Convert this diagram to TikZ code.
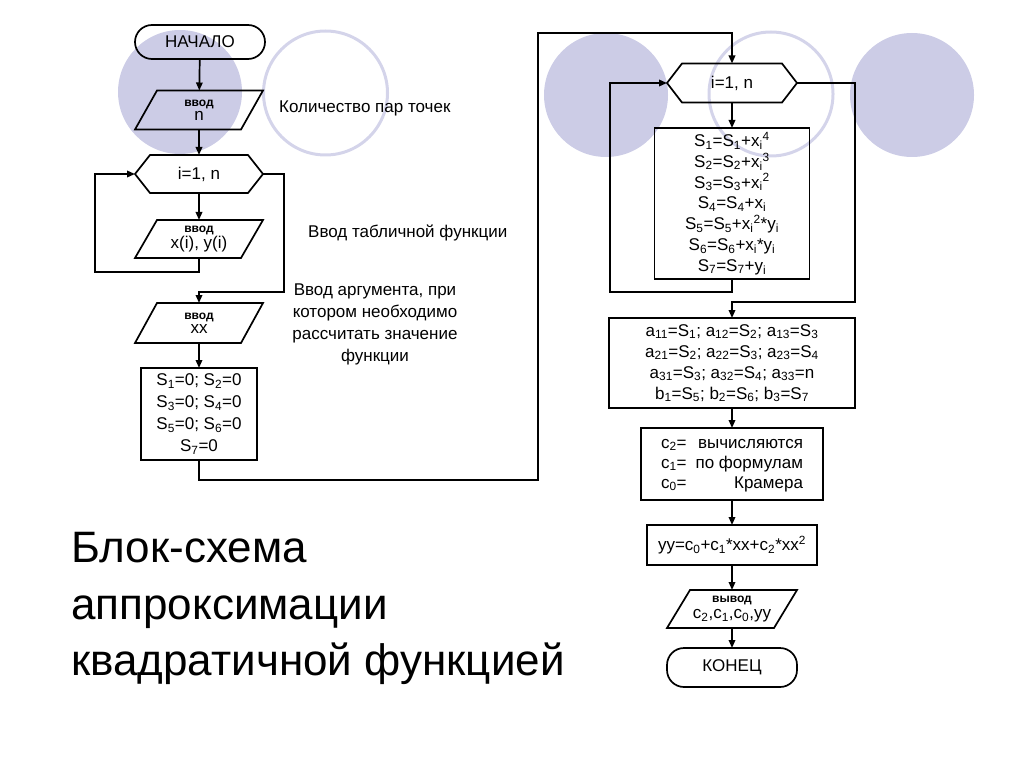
\documentclass[tikz,border=0pt]{standalone}
\usepackage{fontspec}
\setmainfont{Liberation Sans}
\usetikzlibrary{arrows.meta}
\definecolor{lav}{RGB}{204,204,230}
\definecolor{lavline}{RGB}{212,212,234}
\newcommand\Sb[1]{\textsubscript{#1}}
\newcommand\Sp[1]{\textsuperscript{#1}}
\newcommand\drawpara[2]{\draw[shapeline] (#1.south west) -- ([xshift=#2]#1.north west) -- (#1.north east) -- ([xshift=-#2]#1.south east) -- cycle;}
\newcommand\drawhexa[1]{\draw[shapeline] (#1.west) -- ([xshift=15pt]#1.north west) -- ([xshift=-15pt]#1.north east) -- (#1.east) -- ([xshift=-15pt]#1.south east) -- ([xshift=15pt]#1.south west) -- cycle;}
\newcommand\vvod[1]{{\fontsize{12}{13}\selectfont\bfseries #1}}
\begin{document}
\begin{tikzpicture}[x=1pt,y=-1pt,
  shapeline/.style={line width=1.7pt,line join=miter},
  flow/.style={line width=1.7pt},
  arr/.style={flow,-{Triangle[length=8pt,width=6.5pt]}},
  box/.style={draw,line width=1.7pt,inner sep=0pt,outer sep=0pt,align=center,font=\fontsize{17}{21}\selectfont},
  ghost/.style={inner sep=0pt,outer sep=0pt,align=center,font=\fontsize{17}{14}\selectfont},
  term/.style={box,rounded corners=17pt},
  disc/.style={fill=lav,draw=none},
  ring/.style={draw=lavline,line width=3pt},
  note/.style={font=\fontsize{17}{22}\selectfont},
  title/.style={font=\fontsize{44}{50}\selectfont,anchor=base west,inner sep=0pt}]
\useasboundingbox (0,0) rectangle (1024,767);
% background circles
\fill[disc] (180,92) circle (62);
\draw[ring] (325.5,93) circle (62);
\fill[disc] (606,95) circle (62);
\draw[ring] (771,94) circle (62);
\fill[disc] (912,95) circle (62);

% left flow
\node[term,minimum width=130pt,minimum height=34pt] (start) at (200,42) {НАЧАЛО};
\node[ghost,minimum width=128pt,minimum height=39pt] (in1) at (199,110) {\vvod{ввод}\\n};
\drawpara{in1}{22pt}
\node[ghost,minimum width=128pt,minimum height=38pt] (loop1) at (199,174) {i=1, n};
\drawhexa{loop1}
\node[ghost,minimum width=128pt,minimum height=38pt,font=\fontsize{17}{13}\selectfont] (in2) at (199,239) {\vvod{ввод}\\x(i), y(i)};
\drawpara{in2}{22pt}
\node[ghost,minimum width=128pt,minimum height=40pt,font=\fontsize{17}{14}\selectfont] (in3) at (199,323) {\vvod{ввод}\\xx};
\drawpara{in3}{22pt}
\node[box,minimum width=116pt,minimum height=92pt,font=\fontsize{17}{22}\selectfont] (init) at (199,414)
  {S\Sb{1}=0; S\Sb{2}=0\\S\Sb{3}=0; S\Sb{4}=0\\S\Sb{5}=0; S\Sb{6}=0\\S\Sb{7}=0};

% right flow
\node[ghost,minimum width=130pt,minimum height=39pt] (loop2) at (732,83) {i=1, n};
\drawhexa{loop2}
\node[box,minimum width=155pt,minimum height=151pt,font=\fontsize{17}{20.8}\selectfont] (sum) at (732,203.5)
  {S\Sb{1}=S\Sb{1}+x\Sb{i}\Sp{4}\\
   S\Sb{2}=S\Sb{2}+x\Sb{i}\Sp{3}\\
   S\Sb{3}=S\Sb{3}+x\Sb{i}\Sp{2}\\
   S\Sb{4}=S\Sb{4}+x\Sb{i}\\
   S\Sb{5}=S\Sb{5}+x\Sb{i}\Sp{2}*y\Sb{i}\\
   S\Sb{6}=S\Sb{6}+x\Sb{i}*y\Sb{i}\\
   S\Sb{7}=S\Sb{7}+y\Sb{i}};
\node[box,minimum width=246pt,minimum height=90pt] (abox) at (732,363)
  {a\Sb{11}=S\Sb{1}; a\Sb{12}=S\Sb{2}; a\Sb{13}=S\Sb{3}\\
   a\Sb{21}=S\Sb{2}; a\Sb{22}=S\Sb{3}; a\Sb{23}=S\Sb{4}\\
   a\Sb{31}=S\Sb{3}; a\Sb{32}=S\Sb{4}; a\Sb{33}=n\\
   b\Sb{1}=S\Sb{5}; b\Sb{2}=S\Sb{6}; b\Sb{3}=S\Sb{7}};
\node[box,minimum width=182pt,minimum height=72pt] (cbox) at (732,464)
  {\begin{tabular}{@{}l@{\hspace{9pt}}r@{}}
   c\Sb{2}= & вычисляются\\[-1pt]
   c\Sb{1}= & по формулам\\[-1pt]
   c\Sb{0}= & Крамера
   \end{tabular}};
\node[box,minimum width=170pt,minimum height=40pt] (yy) at (732,545)
  {yy=c\Sb{0}+c\Sb{1}*xx+c\Sb{2}*xx\Sp{2}};
\node[ghost,minimum width=130pt,minimum height=38pt,font=\fontsize{17}{16}\selectfont] (out) at (732,609)
  {\vvod{вывод}\\c\Sb{2},c\Sb{1},c\Sb{0},yy};
\drawpara{out}{23pt}
\node[term,minimum width=130pt,minimum height=39pt] (stop) at (732,667.5) {КОНЕЦ};

% connectors left
\draw[arr] (start) -- (in1);
\draw[arr] (in1) -- (loop1);
\draw[arr] (loop1) -- (in2);
\coordinate (lc) at (95,174);
\draw[arr] (in2.south) -- ++(0,14) -| (lc) -- (loop1.west);
\coordinate (rc) at (284,292);
\draw[arr] (loop1.east) -| (rc) -| (in3.north);
\draw[arr] (in3) -- (init);
\coordinate (jc) at (538,33);
\draw[arr] (init.south) -- ++(0,20) -| (jc) -| (loop2.north);

% connectors right
\draw[arr] (loop2) -- (sum);
\coordinate (sc) at (610,83);
\draw[arr] (sum.south) -- ++(0,13) -| (sc) -- (loop2.west);
\coordinate (ec) at (855,302);
\draw[arr] (loop2.east) -| (ec) -| (abox.north);
\draw[arr] (abox) -- (cbox);
\draw[arr] (cbox) -- (yy);
\draw[arr] (yy) -- (out);
\draw[arr] (out) -- (stop);

% notes
\node[note,anchor=base west,inner sep=0pt] (n1) at (279,113) {Количество пар точек};
\node[note,anchor=base west,inner sep=0pt] (n2) at (308,237) {Ввод табличной функции};
\node[note,align=center,inner sep=0pt] (n3) at (375,324)
  {Ввод аргумента, при\\котором необходимо\\рассчитать значение\\функции};

% title
\node[title] (t1) at (71,562) {Блок-схема};
\node[title] (t2) at (71,619) {аппроксимации};
\node[title] (t3) at (71,675) {квадратичной функцией};
\end{tikzpicture}
\end{document}
